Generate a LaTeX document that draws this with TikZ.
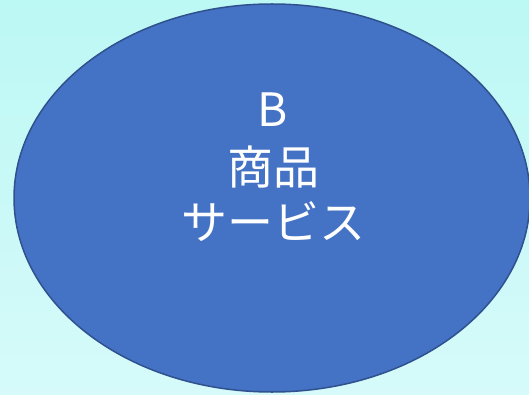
\documentclass[tikz,border=0pt]{standalone}
\usepackage{fontspec}
\newfontfamily\cjk{Noto Sans CJK JP}
\usetikzlibrary{shapes.geometric}
\definecolor{bgtop}{RGB}{188,248,244}
\definecolor{bgbot}{RGB}{214,250,250}
\definecolor{ellfill}{RGB}{68,114,196}
\definecolor{elldraw}{RGB}{47,82,143}
\tikzset{
  blob/.style={ellipse, fill=ellfill, draw=elldraw, line width=1.5pt, inner sep=0pt},
  label/.style={text=white, font=\cjk\fontsize{46}{56}\selectfont, anchor=base, inner sep=0pt}
}
\begin{document}
\begin{tikzpicture}[x=1pt,y=1pt]
\useasboundingbox (0,0) rectangle (529,394);
\fill[top color=bgtop, bottom color=bgbot] (0,0) rectangle (529,394);
\node[blob, minimum width=516pt, minimum height=388pt] (oval) at (272,196) {};
\node[label] (t1) at (273,394-127) {B};
\node[label] (t2) at (273,394-184) {商品};
\node[label] (t3) at (273,394-239) {サービス};
\end{tikzpicture}
\end{document}
